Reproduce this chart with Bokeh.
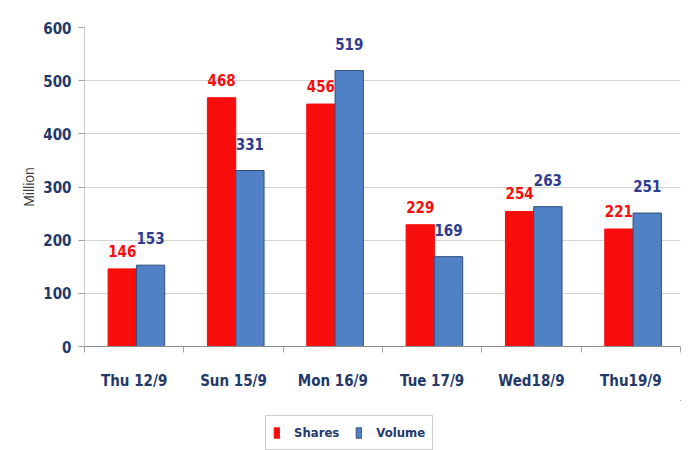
from bokeh.plotting import figure
from bokeh.layouts import column
from bokeh.models import ColumnDataSource, FixedTicker, Legend, LegendItem, Range1d
from bokeh.core.properties import value
from bokeh.embed import file_html
from bokeh.resources import INLINE

categories = ["Thu 12/9", "Sun 15/9", "Mon 16/9", "Tue 17/9", "Wed18/9", "Thu19/9"]
shares = [146, 468, 456, 229, 254, 221]
volume = [153, 331, 519, 169, 263, 251]
y_ticks = [0, 100, 200, 300, 400, 500, 600]
series_names = ["Shares", "Volume"]

FONT = "DejaVu Sans Condensed"
NAVY = "#23386b"
RED = "#f80d0d"
BLUE = "#4f81c4"
BLUE_EDGE = "#2f4f7f"

idx = list(range(len(categories)))
src_s = ColumnDataSource(dict(x=[i + 0.38 for i in idx], top=shares, lab=[str(v) for v in shares]))
src_v = ColumnDataSource(dict(x=[i + 0.665 for i in idx], top=volume, lab=[str(v) for v in volume]))

p = figure(width=690, height=400, output_backend="svg", toolbar_location=None,
           x_range=Range1d(0, len(categories)), y_range=Range1d(0, 600),
           min_border_left=84, min_border_top=27, min_border_right=10, min_border_bottom=54)
p.outline_line_color = None
p.background_fill_color = "white"
p.border_fill_color = "white"

p.vbar(x="x", top="top", width=0.285, source=src_s, fill_color=RED, line_color=RED)
p.vbar(x="x", top="top", width=0.285, source=src_v, fill_color=BLUE, line_color=BLUE_EDGE, line_width=1)

p.text(x="x", y="top", text="lab", source=src_s, text_align="center", text_baseline="bottom",
       y_offset=-12, text_color=RED, text_font=value(FONT), text_font_size="15px", text_font_style="bold")
p.text(x="x", y="top", text="lab", source=src_v, text_align="center", text_baseline="bottom",
       y_offset=-21, text_color="#2e3b8f", text_font=value(FONT), text_font_size="15px", text_font_style="bold")

# x axis
xt = [i + 0.5 for i in idx]
p.xaxis.ticker = FixedTicker(ticks=xt, minor_ticks=list(range(len(categories) + 1)))
p.xaxis.major_label_overrides = {t: c for t, c in zip(xt, categories)}
p.xaxis.major_tick_line_color = None
p.xaxis.minor_tick_line_color = "#a0a0a0"
p.xaxis.minor_tick_out = 6
p.xaxis.minor_tick_in = 0
p.xaxis.axis_line_color = "#8c8c8c"
p.xaxis.major_label_standoff = 19
p.xaxis.major_label_text_font = FONT
p.xaxis.major_label_text_font_size = "15px"
p.xaxis.major_label_text_font_style = "bold"
p.xaxis.major_label_text_color = NAVY
p.xgrid.grid_line_color = None

# y axis
p.yaxis.ticker = FixedTicker(ticks=y_ticks)
p.yaxis.minor_tick_line_color = None
p.yaxis.major_tick_line_color = "#a0a0a0"
p.yaxis.major_tick_out = 6
p.yaxis.major_tick_in = 0
p.yaxis.axis_line_color = "#c8c8c8"
p.yaxis.major_label_standoff = 7
p.yaxis.major_label_text_font = FONT
p.yaxis.major_label_text_font_size = "15px"
p.yaxis.major_label_text_font_style = "bold"
p.yaxis.major_label_text_color = NAVY
p.yaxis.axis_label = "Million"
p.yaxis.axis_label_text_font = "Liberation Sans"
p.yaxis.axis_label_text_font_style = "normal"
p.yaxis.axis_label_text_font_size = "14px"
p.yaxis.axis_label_text_color = "#404040"
p.yaxis.axis_label_standoff = 3
p.ygrid.grid_line_color = "#d4d4d4"

# legend strip below the chart (swatch renderers hold one point outside the visible range)
lf = figure(width=690, height=50, output_backend="svg", toolbar_location=None,
            x_range=Range1d(0, 1), y_range=Range1d(0, 1),
            min_border_left=0, min_border_right=0, min_border_top=0, min_border_bottom=0)
lf.axis.visible = False
lf.grid.grid_line_color = None
lf.outline_line_color = None
lf.border_fill_color = "white"
rs = lf.vbar(x=[5], top=[5], bottom=[4], width=0.1, fill_color=RED, line_color=RED)
rv = lf.vbar(x=[5], top=[5], bottom=[4], width=0.1, fill_color=BLUE, line_color=BLUE_EDGE)

legend = Legend(items=[LegendItem(label=series_names[0], renderers=[rs]),
                       LegendItem(label=series_names[1], renderers=[rv])],
                orientation="horizontal", location=(181, 0))
legend.label_text_font = FONT
legend.label_text_font_size = "13px"
legend.label_text_font_style = "bold"
legend.label_text_color = NAVY
legend.glyph_width = 7
legend.glyph_height = 13
legend.label_height = 19
legend.label_standoff = 14
legend.border_line_color = "#9a9a9a"
legend.padding = 7
legend.spacing = 16
legend.margin = 0
lf.add_layout(legend, "center")

layout = column(p, lf, spacing=0)
open("out.html", "w").write(file_html(layout, INLINE))
